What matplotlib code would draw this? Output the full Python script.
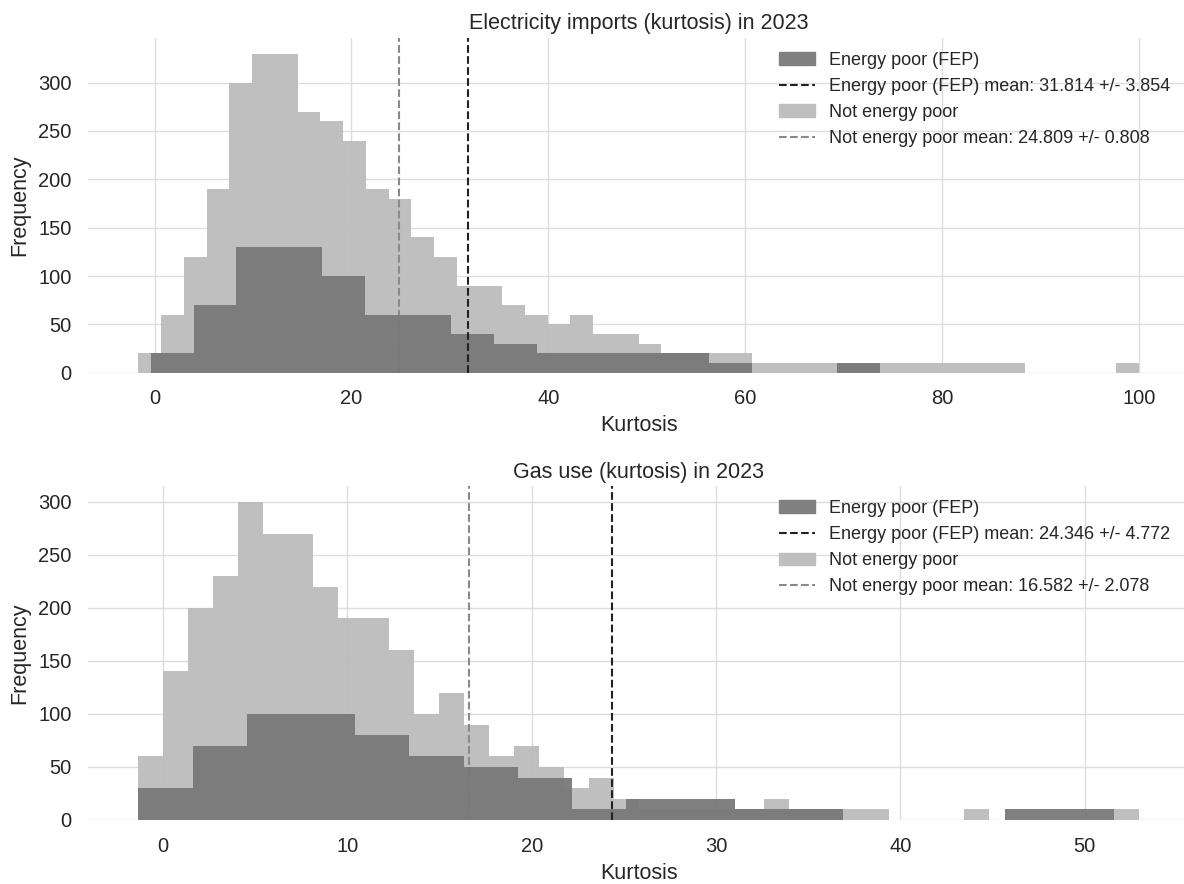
import numpy as np
import matplotlib
matplotlib.use('Agg')
import matplotlib.pyplot as plt
from matplotlib.patches import Patch
from matplotlib.lines import Line2D

plt.rcParams['font.family'] = ['Liberation Sans', 'DejaVu Sans']
plt.rcParams['text.color'] = '0.15'
plt.rcParams['axes.labelcolor'] = '0.15'
plt.rcParams['xtick.color'] = '0.15'
plt.rcParams['ytick.color'] = '0.15'

# electricity imports (kurtosis), histogram counts
elec_fep_range = (-0.4, 73.72)
elec_fep_counts = [20, 70, 130, 130, 100, 60, 60, 40, 30, 20, 20, 20, 20, 10, 0, 0, 10]
elec_nep_range = (-1.65, 100.0)
elec_nep_counts = [20, 60, 120, 190, 300, 330, 330, 270, 260, 240, 190, 180, 140, 120, 90,
                   90, 70, 60, 50, 60, 40, 40, 30, 20, 20, 20, 20, 10, 10, 10, 10, 10, 10,
                   10, 10, 10, 10, 10, 10, 0, 0, 0, 0, 10]
elec_fep_mean = (31.814, 3.854)
elec_nep_mean = (24.809, 0.808)

# gas use (kurtosis)
gas_fep_range = (-1.34, 51.58)
gas_fep_counts = [30, 70, 100, 100, 80, 60, 50, 40, 10, 20, 20, 10, 10, 0, 0, 0, 10, 10]
gas_nep_range = (-1.34, 52.94)
gas_nep_counts = [60, 140, 200, 230, 300, 270, 270, 220, 190, 190, 160, 100, 120, 90, 60,
                  70, 50, 30, 40, 20, 10, 10, 10, 10, 10, 20, 10, 10, 10, 10, 0, 0, 0, 10,
                  0, 0, 0, 0, 0, 10]
gas_fep_mean = (24.346, 4.772)
gas_nep_mean = (16.582, 2.078)

titles = ['Electricity imports (kurtosis) in 2023', 'Gas use (kurtosis) in 2023']

dark = '#797979'
light = '#bcbcbc'


def draw_panel(ax, fep_range, fep_counts, nep_range, nep_counts, fep_mean, nep_mean, title):
    fep_edges = np.linspace(fep_range[0], fep_range[1], len(fep_counts) + 1)
    nep_edges = np.linspace(nep_range[0], nep_range[1], len(nep_counts) + 1)
    ax.hist(nep_edges[:-1], bins=nep_edges, weights=nep_counts, color=light, alpha=0.95, zorder=2)
    ax.axvline(nep_mean[0], color='#8a8a8a', linestyle='--', linewidth=1.5, zorder=2.5)
    ax.hist(fep_edges[:-1], bins=fep_edges, weights=fep_counts, color=dark, alpha=0.95, zorder=3)
    ax.axvline(fep_mean[0], color='#222222', linestyle='--', linewidth=1.5, zorder=4)

    handles = [Patch(color='#808080'),
               Line2D([], [], color='#222222', linestyle='--', linewidth=1.5),
               Patch(color='#bfbfbf'),
               Line2D([], [], color='#8a8a8a', linestyle='--', linewidth=1.5)]
    labels = ['Energy poor (FEP)',
              'Energy poor (FEP) mean: %.3f +/- %.3f' % fep_mean,
              'Not energy poor',
              'Not energy poor mean: %.3f +/- %.3f' % nep_mean]
    ax.legend(handles, labels, loc='upper right', frameon=False, fontsize=13,
              bbox_to_anchor=(0.998, 1.006))

    ax.set_title(title, fontsize=15.5)
    ax.set_xlabel('Kurtosis', fontsize=15.5, labelpad=5)
    ax.set_ylabel('Frequency', fontsize=15.5, labelpad=6)
    ax.tick_params(labelsize=14.5, length=0, pad=12)
    ax.grid(True, color='#dddddd', linewidth=1)
    ax.set_axisbelow(True)
    for s in ax.spines.values():
        s.set_visible(False)


fig = plt.figure(figsize=(11.84, 8.84), dpi=100)
ax1 = fig.add_axes([0.0746, 0.5784, 0.9296, 0.379])
ax2 = fig.add_axes([0.0746, 0.0724, 0.9296, 0.378])

draw_panel(ax1, elec_fep_range, elec_fep_counts, elec_nep_range, elec_nep_counts,
           elec_fep_mean, elec_nep_mean, titles[0])
draw_panel(ax2, gas_fep_range, gas_fep_counts, gas_nep_range, gas_nep_counts,
           gas_fep_mean, gas_nep_mean, titles[1])

fig.savefig('out.png', dpi=100)
